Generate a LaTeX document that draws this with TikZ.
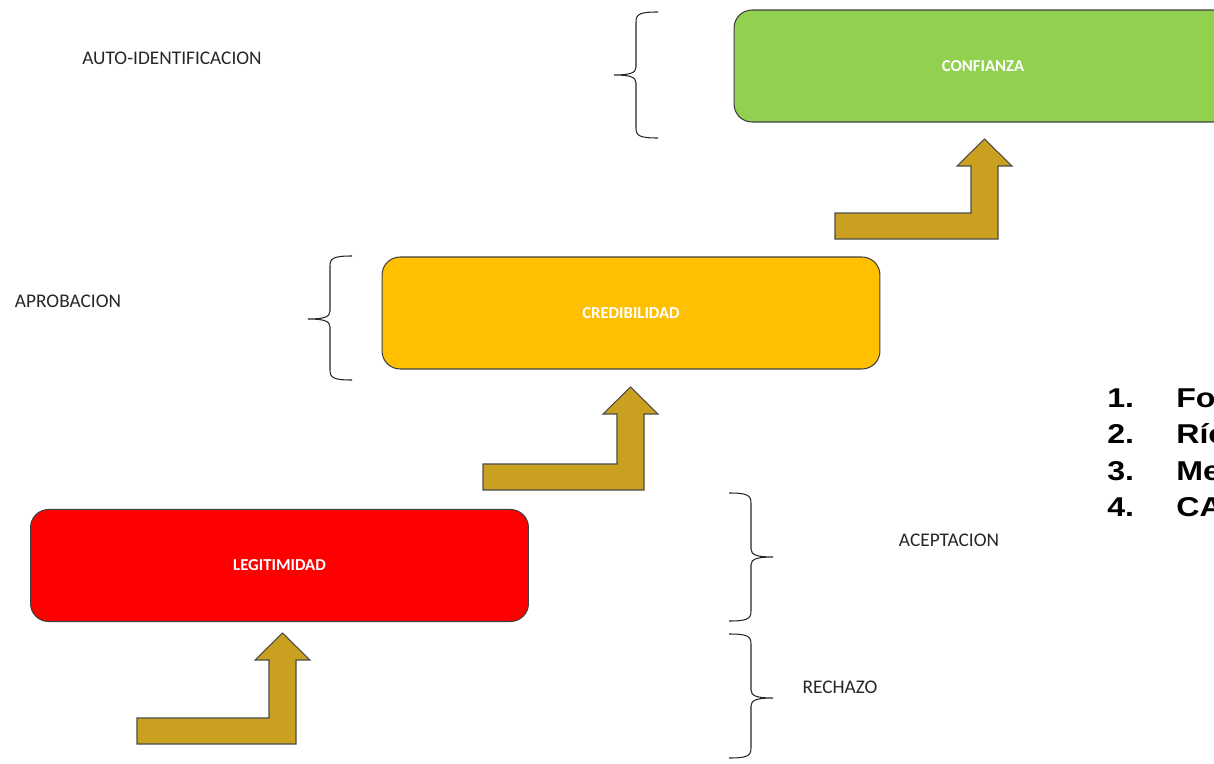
\documentclass[tikz,border=0pt]{standalone}
\usepackage{fontspec}
\setmainfont{Carlito}
\newfontfamily\listafont{Liberation Sans}
\usepackage{graphicx}
\usepackage{tikz}
\usetikzlibrary{positioning}
\definecolor{verde}{RGB}{146,208,80}
\definecolor{amarillo}{RGB}{255,192,0}
\definecolor{rojo}{RGB}{255,0,0}
\definecolor{dorado}{RGB}{201,160,32}
\newcommand{\barh}{26}
\newcommand{\ancho}[1]{\scalebox{1.18}[1]{#1}}
% #1 bar left, #2 bar bottom, #3 shaft right, #4 tip
\newcommand{\flecha}[4]{%
  \filldraw[flechastyle] (#1,#2) -- (#3,#2) -- (#3,#4+27) -- (#3+14,#4+27)
    -- (#3-13.5,#4) -- (#3-41,#4+27) -- (#3-27,#4+27) -- (#3-27,#2-\barh)
    -- (#1,#2-\barh) -- cycle;}
% #1 spine x, #2 top, #3 bottom, #4 middle, #5 side
\newcommand{\llave}[5]{%
  \draw[llavestyle] (#1+22*#5,#2) .. controls (#1+4*#5,#2) and (#1,#2+2) .. (#1,#2+10)
    -- (#1,#4-8) .. controls (#1,#4-2) and (#1-6*#5,#4) .. (#1-22*#5,#4)
    .. controls (#1-6*#5,#4) and (#1,#4+2) .. (#1,#4+8)
    -- (#1,#3-10) .. controls (#1,#3-2) and (#1+4*#5,#3) .. (#1+22*#5,#3);}

\begin{document}
\begin{tikzpicture}[x=0.02cm,y=-0.02cm]
        \begin{scope}
        %\draw[help lines] (0,0) grid[step=100] (1214,764);
            \tikzset{caja/.style = {draw=black!75, line width=0.6pt, rounded corners=0.36cm,
                       minimum width=9.96cm, minimum height=2.24cm, text=white,
                       font=\fontsize{9.5}{11}\selectfont\bfseries}}
            \tikzset{etiqueta/.style = {font=\fontsize{11}{13}\selectfont, text=black!85}}
            \tikzset{lista/.style = {anchor=base west, inner sep=0pt,
                       font=\listafont\bfseries\fontsize{15.5}{18}\selectfont}}
            \tikzset{flechastyle/.style = {fill=dorado, draw=black!70, line width=0.6pt}}
            \tikzset{llavestyle/.style = {draw=black!85, line width=0.6pt}}
            \useasboundingbox (0,0) rectangle (1214,764);
            \clip (0,0) rectangle (1214,764);

            \node[caja, fill=verde] (confianza) at (983,66) {CONFIANZA};
            \node[caja, fill=amarillo] (credib) at (631,313) {CREDIBILIDAD};
            \node[caja, fill=rojo] (legit) at (279.5,565.5) {LEGITIMIDAD};

            \flecha{137}{744}{296}{633}
            \flecha{483}{490}{644}{387}
            \flecha{835}{239}{998}{139}

            \llave{636}{12}{138}{75}{1}
            \llave{330}{256}{380}{319}{1}
            \llave{751}{493}{621}{557}{-1}
            \llave{751}{634}{758}{698}{-1}

            \node[etiqueta] (autoid) at (172,58) {AUTO-IDENTIFICACION};
            \node[etiqueta] (aprob) at (68,301) {APROBACION};
            \node[etiqueta] (acept) at (949,540) {ACEPTACION};
            \node[etiqueta] (rechazo) at (840,687) {RECHAZO};

            \node[lista] (num1) at (1107,407) {\ancho{1.}};
            \node[lista] (num2) at (1107,443) {\ancho{2.}};
            \node[lista] (num3) at (1107,480) {\ancho{3.}};
            \node[lista] (num4) at (1107,516) {\ancho{4.}};
            \node[lista] (item1) at (1176,407) {\ancho{Fo}};
            \node[lista] (item2) at (1176,443) {\ancho{Río}};
            \node[lista] (item3) at (1176,480) {\ancho{Me}};
            \node[lista] (item4) at (1176,516) {\ancho{CA}};
        \end{scope}
    \end{tikzpicture}
\end{document}
